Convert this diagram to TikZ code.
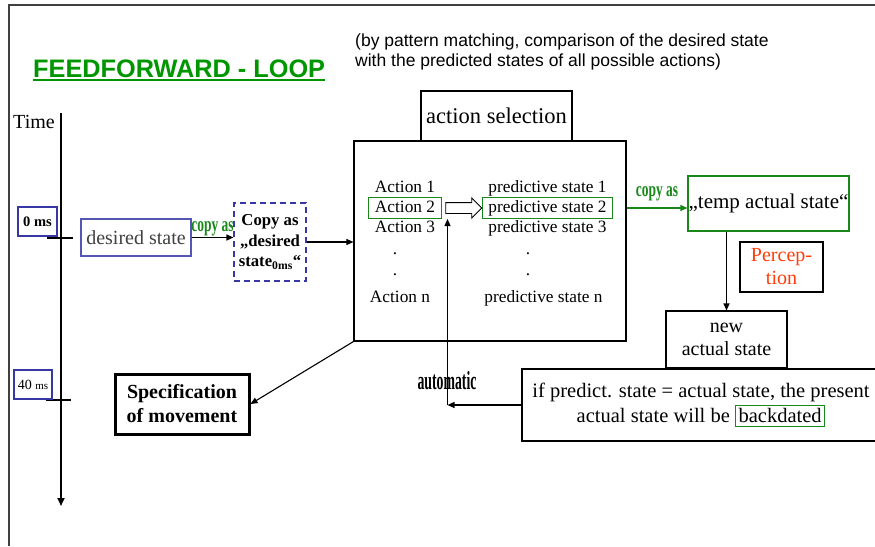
\documentclass[tikz,border=0pt]{standalone}
\usepackage{fontspec}
\setmainfont{Liberation Serif}
\setsansfont{Liberation Sans}
\usepackage{graphicx}
\usetikzlibrary{positioning, arrows.meta, shapes.arrows}
\definecolor{loopgreen}{RGB}{0,150,0}
\definecolor{boxgreen}{RGB}{25,135,25}
\definecolor{timeblue}{RGB}{55,55,165}
\definecolor{percred}{RGB}{255,60,10}
\newcommand{\setfs}[2]{\fontsize{#1}{#2}\selectfont}

\begin{document}
\begin{tikzpicture}[x=1pt, y=-1pt]
	\tikzset{
		plainbox/.style={draw, line width=1.1pt, align=center, inner sep=0pt},
		greenbox/.style={plainbox, draw=boxgreen},
		timebox/.style={plainbox, draw=timeblue, minimum height=29},
		rowtext/.style={inner sep=0pt, minimum height=21, text height=12pt, text depth=4pt, font=\setfs{17.3}{20.5}},
		arr/.style={line width=1.1pt, -{Triangle[length=7pt,width=6pt]}},
		copylabel/.style={text=boxgreen, inner sep=0pt, font=\setfs{21}{21}\bfseries}
	}
	\useasboundingbox (0,0) rectangle (875,546);
	\clip (0,0) rectangle (875,546);
	\draw[black!75, line width=1.8pt] (9,546) -- (9,5) -- (875,5);

	\node[anchor=base west, inner sep=0pt, text=loopgreen, font=\sffamily\bfseries\setfs{25.3}{30}] (title) at (33,77) {FEEDFORWARD - LOOP};
	\draw[loopgreen, line width=2pt] ([yshift=-3pt]title.base west) -- ([yshift=-3pt]title.base east);
	\node[anchor=north west, inner sep=0pt, align=left, font=\sffamily\setfs{17.5}{20}] (note) at (355,34) {(by pattern matching, comparison of the desired state\\with the predicted states of all possible actions)};

	\coordinate (ttop) at (61,113);
	\coordinate (tbot) at (61,506);
	\draw[line width=2.6pt, -{Triangle[length=8pt,width=7pt]}] (ttop) -- (tbot);
	\draw[line width=2.6pt] (47,238) -- (73,238);
	\draw[line width=2.6pt] (46,400) -- (71,400);
	\node[font=\setfs{20}{24}] (time) at (34,122) {Time};
	\node[timebox, minimum width=39, font=\setfs{14.5}{16}\bfseries] (t0) at (37.5,221.5) {0 ms};
	\node[timebox, minimum width=38, font=\setfs{14}{16}] (t40) at (33,384.5) {40 {\setfs{11}{11}ms}};

	\node[plainbox, draw=timeblue!85, minimum width=110, minimum height=37, text=black!75, font=\setfs{20}{24}] (desired) at (136,237.5) {desired state};
	\node[plainbox, draw=timeblue, dash pattern=on 6pt off 4pt, minimum width=72, minimum height=78, font=\setfs{16.7}{20.5}\bfseries] (copy) at (270,242) {Copy as\\„desired\\state\textsubscript{0ms}“};
	\draw[arr] (desired.east) -- (desired.east -| copy.west) node[midway, above=1pt, copylabel] (copy1) {\scalebox{0.64}[1]{copy as}};

	\node[plainbox, minimum width=272, minimum height=200] (sel) at (490,241) {};
	\node[plainbox, minimum width=151, minimum height=50, font=\setfs{22.5}{26}] (seltitle) at (496.5,116) {action selection};
	\draw[arr] (copy.east) -- (copy.east -| sel.west);

	\foreach \i/\y in {1/188,2/208,3/228.5} {
		\node[rowtext, minimum width=72] (act\i) at (405,\y) {Action \i};
		\node[rowtext, minimum width=129] (ps\i) at (547.5,\y) {predictive state \i};
	}
	\draw[boxgreen, line width=1.1pt] (act2.south west) rectangle (act2.north east);
	\draw[boxgreen, line width=1.1pt] (ps2.south west) rectangle (ps2.north east);
	\node[rowtext] (actd1) at (395,250) {.};
	\node[rowtext] (actd2) at (395,271) {.};
	\node[rowtext] (psd1) at (528,250) {.};
	\node[rowtext] (psd2) at (528,271) {.};
	\node[rowtext] (actn) at (400,298) {Action n};
	\node[rowtext] (psn) at (543.5,298) {predictive state n};
	\node[single arrow, draw, fill=white, line width=0.9pt, minimum height=36, minimum width=19, single arrow head extend=4.5pt, inner sep=5pt] (pick) at (461,208) {};

	\node[greenbox, minimum width=161, minimum height=55, font=\setfs{21}{25}] (temp) at (768.5,203.5) {„temp actual state“};
	\draw[arr, boxgreen] (ps2.east -| sel.east) -- (ps2.east -| temp.west) node[midway, above=6pt, copylabel] (copy2) {\scalebox{0.64}[1]{copy as}};
	\node[plainbox, minimum width=83, minimum height=50, text=percred, font=\setfs{20}{23}] (percep) at (781.5,267) {Percep-\\tion};
	\node[plainbox, minimum width=121, minimum height=57, font=\setfs{20}{23}] (newst) at (726.5,339.5) {new\\actual state};
	\draw[arr] (newst.north |- temp.south) -- (newst.north);

	\node[plainbox, minimum width=358, minimum height=72, font=\setfs{20.5}{25}] (cond) at (701,405) {if predict. state = actual state, the present\\actual state will be {\fboxsep=2.5pt\fboxrule=1.1pt\fcolorbox{boxgreen}{white}{backdated}}};
	\node[plainbox, line width=3pt, minimum width=134, minimum height=60, font=\setfs{20}{24}\bfseries] (spec) at (182,404) {Specification\\of movement};
	\draw[arr] (sel.south west) -- (spec.east);

	\coordinate (bend) at (447.5,405);
	\coordinate (pickin) at (447.5,219);
	\draw[arr] (cond.west) -- (bend);
	\draw[arr] (bend) -- (pickin);
	\node[inner sep=0pt, font=\setfs{26}{26}\bfseries] (autolab) at (447,381) {\scalebox{0.53}[1]{automatic}};
\end{tikzpicture}
\end{document}
